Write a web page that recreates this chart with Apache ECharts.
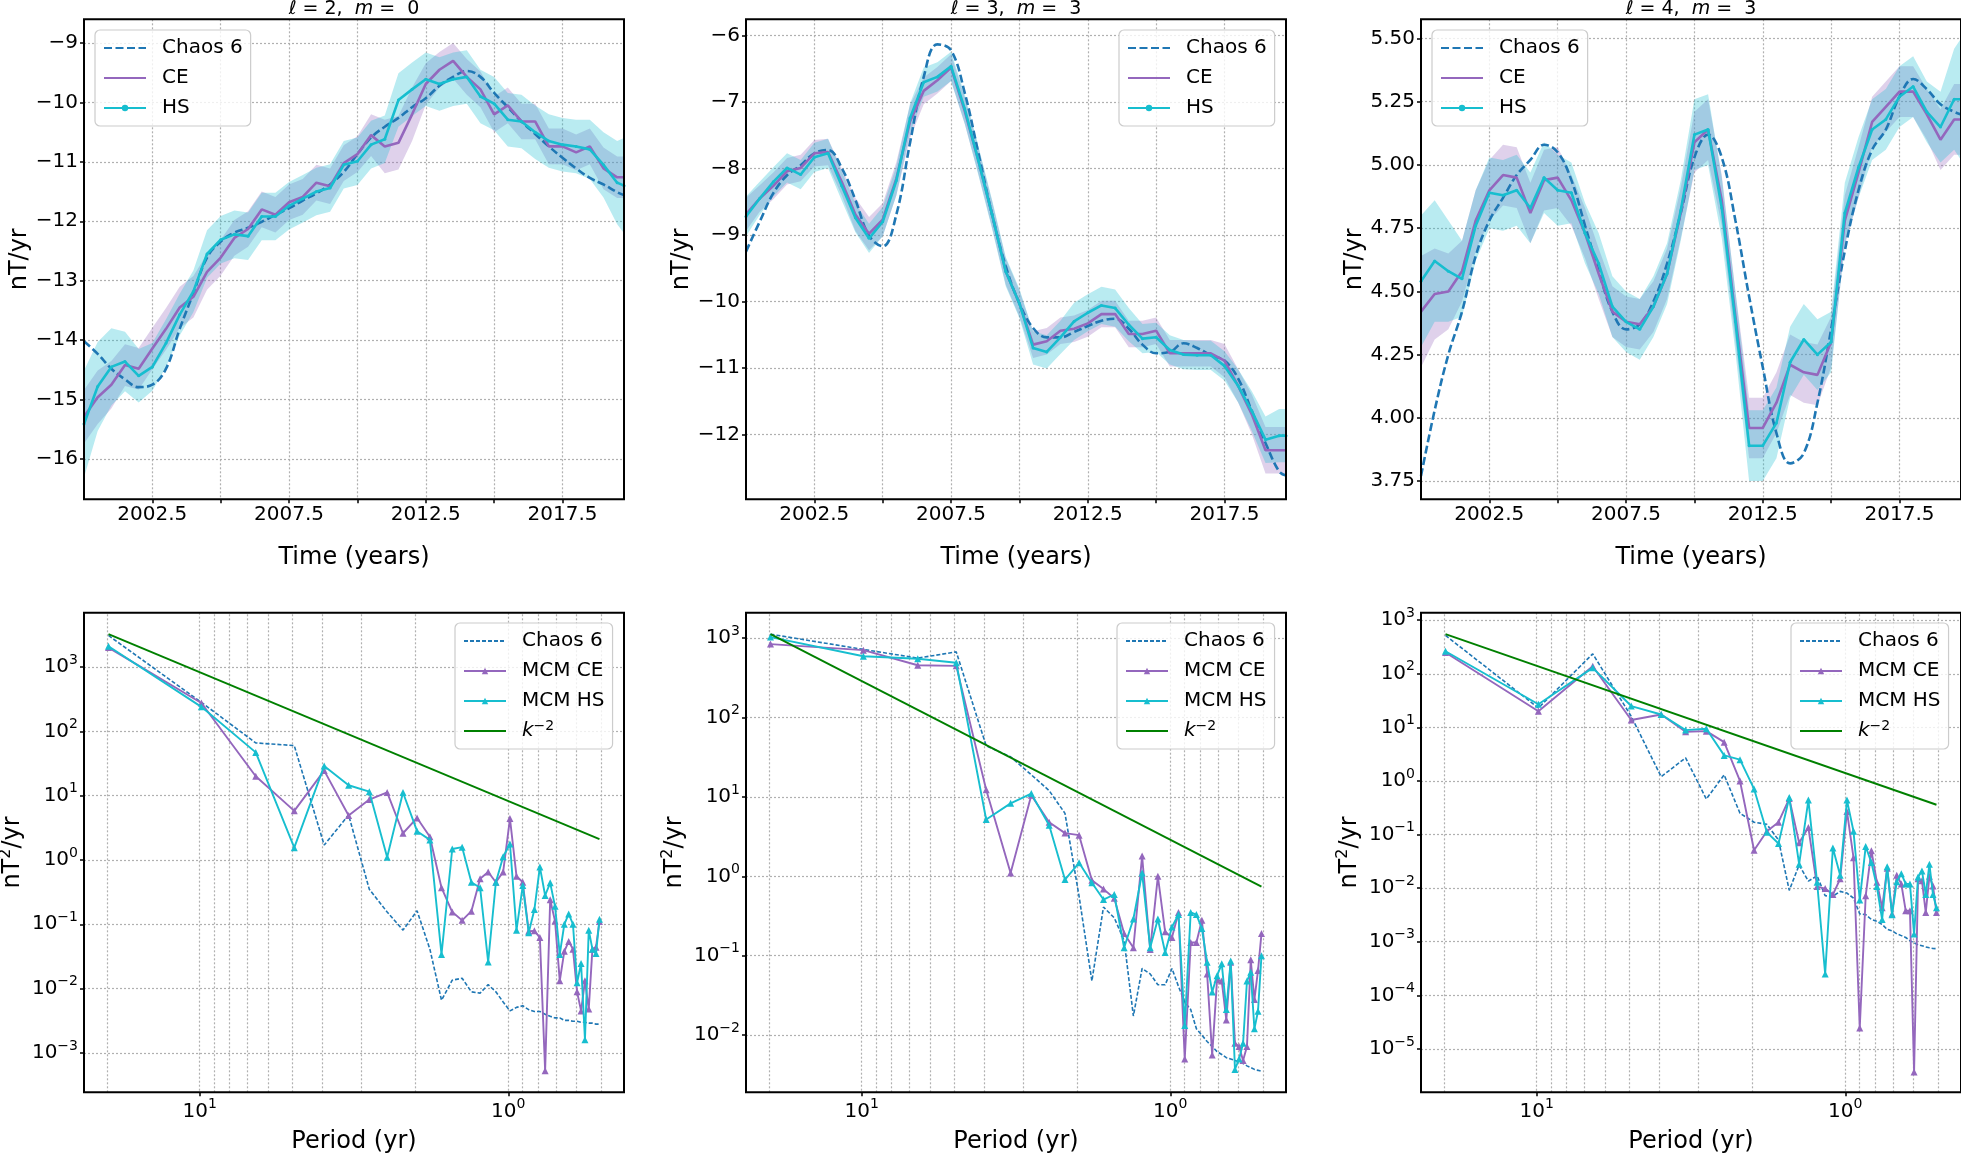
<!DOCTYPE html>
<html><head><meta charset="utf-8">
<script src="https://cdn.jsdelivr.net/npm/echarts@6.0.0/dist/echarts.min.js"></script>
<style>html,body{margin:0;padding:0;background:#fff}#c{width:1961px;height:1153px}</style>
</head><body><div id="c"></div><script>
// ---------------- DATA ----------------
const TIME = [2000,2000.5,2001,2001.5,2002,2002.5,2003,2003.5,2004,2004.5,2005,2005.5,2006,2006.5,2007,2007.5,2008,2008.5,2009,2009.5,2010,2010.5,2011,2011.5,2012,2012.5,2013,2013.5,2014,2014.5,2015,2015.5,2016,2016.5,2017,2017.5,2018,2018.5,2019,2019.5,2019.75];

// l=2, m=0
const chaos1 = [-14.02,-14.23,-14.48,-14.66,-14.79,-14.75,-14.48,-13.81,-13.21,-12.61,-12.34,-12.19,-12.11,-12.01,-11.89,-11.78,-11.65,-11.53,-11.38,-11.17,-10.87,-10.59,-10.41,-10.26,-10.08,-9.93,-9.72,-9.57,-9.47,-9.57,-9.84,-10.08,-10.32,-10.53,-10.74,-10.93,-11.11,-11.27,-11.38,-11.51,-11.56];
const ce1 = [-15.29,-14.96,-14.75,-14.42,-14.48,-14.14,-13.81,-13.45,-13.27,-12.85,-12.61,-12.28,-12.13,-11.80,-11.89,-11.68,-11.59,-11.35,-11.41,-11.02,-10.87,-10.55,-10.74,-10.68,-10.20,-9.69,-9.45,-9.30,-9.57,-9.78,-10.20,-10.05,-10.32,-10.32,-10.74,-10.74,-10.84,-10.74,-11.11,-11.26,-11.26];
const hs1 = [-15.41,-14.78,-14.45,-14.36,-14.60,-14.45,-14.05,-13.57,-13.18,-12.55,-12.31,-12.22,-12.25,-11.92,-11.92,-11.74,-11.62,-11.50,-11.44,-11.05,-10.99,-10.71,-10.62,-9.96,-9.78,-9.61,-9.69,-9.61,-9.57,-9.90,-10.02,-10.29,-10.32,-10.50,-10.65,-10.71,-10.74,-10.79,-11.05,-11.35,-11.40];
const ceSd1 = [0.45,0.45,0.4,0.35,0.35,0.35,0.35,0.35,0.35,0.3,0.3,0.3,0.3,0.3,0.3,0.3,0.3,0.3,0.3,0.3,0.3,0.35,0.45,0.45,0.45,0.35,0.3,0.3,0.3,0.3,0.3,0.3,0.3,0.3,0.3,0.3,0.3,0.3,0.35,0.35,0.35];
const hsSd1 = [0.9,0.75,0.65,0.5,0.45,0.4,0.4,0.35,0.35,0.4,0.4,0.4,0.4,0.4,0.4,0.4,0.4,0.4,0.4,0.4,0.4,0.4,0.4,0.45,0.45,0.45,0.45,0.45,0.45,0.45,0.45,0.45,0.45,0.45,0.45,0.45,0.45,0.5,0.55,0.7,0.8];

// l=3, m=3
const chaos2 = [-9.25,-8.80,-8.37,-8.10,-7.95,-7.77,-7.72,-7.99,-8.47,-9.01,-9.17,-8.69,-7.61,-6.62,-6.13,-6.22,-6.86,-7.77,-8.69,-9.47,-10.03,-10.40,-10.54,-10.54,-10.46,-10.37,-10.29,-10.26,-10.41,-10.65,-10.78,-10.76,-10.63,-10.70,-10.81,-10.89,-11.16,-11.65,-12.13,-12.56,-12.62];
const ce2 = [-8.69,-8.45,-8.26,-8.04,-7.99,-7.77,-7.75,-8.20,-8.69,-8.98,-8.77,-8.15,-7.29,-6.83,-6.67,-6.48,-7.13,-7.88,-8.69,-9.55,-10.03,-10.65,-10.60,-10.44,-10.41,-10.33,-10.19,-10.19,-10.49,-10.49,-10.44,-10.78,-10.78,-10.78,-10.78,-10.89,-11.27,-11.70,-12.24,-12.24,-12.24];
const hs2 = [-8.72,-8.45,-8.20,-7.99,-8.09,-7.83,-7.77,-8.26,-8.74,-9.05,-8.80,-8.18,-7.24,-6.70,-6.62,-6.46,-7.10,-7.88,-8.69,-9.55,-10.03,-10.70,-10.76,-10.54,-10.30,-10.17,-10.06,-10.10,-10.35,-10.56,-10.54,-10.73,-10.80,-10.81,-10.81,-10.97,-11.27,-11.65,-12.08,-12.02,-12.02];
const ceSd2 = [0.25,0.2,0.2,0.2,0.2,0.2,0.2,0.2,0.25,0.25,0.25,0.25,0.25,0.2,0.2,0.2,0.2,0.2,0.2,0.2,0.2,0.2,0.2,0.2,0.2,0.2,0.2,0.2,0.2,0.2,0.2,0.2,0.2,0.2,0.2,0.25,0.25,0.3,0.35,0.35,0.35];
const hsSd2 = [0.3,0.25,0.22,0.22,0.22,0.22,0.22,0.22,0.22,0.22,0.22,0.22,0.22,0.22,0.22,0.22,0.22,0.22,0.22,0.22,0.22,0.25,0.25,0.25,0.28,0.28,0.28,0.28,0.25,0.22,0.22,0.22,0.22,0.22,0.22,0.22,0.25,0.3,0.35,0.4,0.4];

// l=4, m=3
const chaos3 = [3.77,4.03,4.25,4.42,4.64,4.78,4.87,4.96,5.02,5.08,5.05,4.94,4.76,4.58,4.42,4.35,4.37,4.46,4.61,4.81,5.03,5.12,5.03,4.78,4.48,4.20,3.94,3.82,3.86,4.06,4.35,4.66,4.90,5.06,5.14,5.27,5.34,5.30,5.24,5.21,5.20];
const ce3 = [4.42,4.49,4.50,4.58,4.78,4.90,4.96,4.95,4.81,4.94,4.95,4.86,4.73,4.57,4.42,4.38,4.37,4.44,4.57,4.81,5.09,5.14,4.86,4.40,3.96,3.96,4.06,4.21,4.18,4.17,4.30,4.78,4.97,5.17,5.23,5.29,5.29,5.20,5.10,5.18,5.18];
const hs3 = [4.54,4.62,4.58,4.55,4.76,4.89,4.88,4.90,4.83,4.95,4.90,4.89,4.73,4.61,4.44,4.38,4.35,4.44,4.57,4.82,5.12,5.14,4.83,4.38,3.89,3.89,3.98,4.22,4.31,4.25,4.30,4.81,4.99,5.14,5.18,5.27,5.31,5.21,5.15,5.26,5.26];
const ceSd3 = [0.22,0.18,0.15,0.12,0.12,0.12,0.12,0.12,0.12,0.12,0.12,0.1,0.1,0.1,0.1,0.1,0.1,0.1,0.1,0.1,0.12,0.12,0.1,0.1,0.12,0.12,0.12,0.12,0.12,0.12,0.1,0.1,0.1,0.1,0.1,0.1,0.1,0.1,0.12,0.14,0.14];
const hsSd3 = [0.26,0.24,0.2,0.15,0.14,0.14,0.14,0.14,0.14,0.14,0.14,0.12,0.12,0.12,0.12,0.12,0.12,0.12,0.12,0.12,0.14,0.14,0.12,0.12,0.14,0.14,0.14,0.14,0.14,0.14,0.12,0.12,0.12,0.12,0.12,0.12,0.12,0.12,0.14,0.2,0.24];

// spectra
const PERIODS = [19.75,9.875,6.583,4.938,3.95,3.292,2.821,2.469,2.194,1.975,1.795,1.646,1.519,1.411,1.317,1.234,1.162,1.097,1.039,0.9875,0.9405,0.8977,0.8587,0.8229,0.79,0.7596,0.7315,0.7054,0.681,0.6583,0.6371,0.6172,0.5985,0.5809,0.5643,0.5486,0.5338,0.5197,0.5064];
const K_PERIODS = [19.75, 0.5064];

const schaos4 = [3090,282,66,60,1.7,5.0,0.35,0.155,0.081,0.162,0.041,0.0066,0.0135,0.0145,0.0089,0.0085,0.0115,0.0089,0.0062,0.0045,0.0051,0.0054,0.0047,0.0044,0.0044,0.0040,0.0037,0.0035,0.0035,0.0032,0.0032,0.0031,0.0031,0.0030,0.0030,0.0029,0.0029,0.0028,0.0028];
const sce4 = [2000,275,20,5.8,24.5,4.9,8.7,11.2,2.6,4.5,2.3,0.37,0.155,0.115,0.16,0.51,0.65,0.45,0.65,4.4,0.56,0.45,0.078,0.079,0.062,0.00053,0.24,0.112,0.0132,0.038,0.054,0.041,0.0089,0.0045,0.0132,0.0048,0.041,0.044,0.11];
const shs4 = [2100,240,47,1.55,29,14.5,11.5,1.1,11.2,2.8,2.05,0.034,1.48,1.58,0.45,0.37,0.026,0.45,1.12,1.77,0.081,0.40,0.074,0.17,0.78,0.28,0.44,0.19,0.034,0.10,0.145,0.10,0.0123,0.0245,0.0016,0.081,0.041,0.035,0.12];
const sk4 = [3240, 2.1];

const schaos5 = [1120,720,560,670,44,32,19,12,6.2,0.56,0.048,0.41,0.30,0.155,0.0174,0.069,0.059,0.043,0.043,0.069,0.041,0.026,0.021,0.012,0.0100,0.0083,0.0072,0.0062,0.0057,0.0052,0.0050,0.0048,0.0046,0.0044,0.0041,0.0039,0.0037,0.0036,0.0035];
const sce5 = [840,705,455,447,12.3,1.1,10.5,4.8,3.5,3.3,0.89,0.69,0.53,0.19,0.126,1.8,0.12,1.0,0.20,0.17,0.35,0.0050,0.147,0.147,0.28,0.059,0.0056,0.050,0.048,0.0155,0.083,0.0079,0.0072,0.0048,0.0072,0.089,0.028,0.065,0.19];
const shs5 = [1030,590,550,490,5.2,8.3,11,4.4,0.91,1.48,0.83,0.51,0.59,0.126,0.29,1.1,0.126,0.29,0.11,0.23,0.33,0.0132,0.35,0.33,0.22,0.083,0.035,0.056,0.079,0.021,0.086,0.0037,0.0050,0.0079,0.048,0.062,0.012,0.020,0.10];
const sk5 = [1120, 0.74];

const schaos6 = [520,23,236,16,1.2,2.7,0.46,1.3,0.25,0.17,0.155,0.079,0.0091,0.027,0.0135,0.017,0.0072,0.0071,0.0087,0.0081,0.0065,0.0033,0.0032,0.0026,0.0024,0.0021,0.0017,0.0016,0.0014,0.0013,0.0012,0.00105,0.00095,0.00088,0.00084,0.00080,0.00077,0.00075,0.00074];
const sce6 = [250,20,138,13.7,17.4,8.3,8.5,5.3,1.0,0.051,0.115,0.17,0.47,0.070,0.135,0.0107,0.0098,0.0076,0.0149,0.27,0.037,0.0000245,0.0072,0.050,0.0129,0.0043,0.0234,0.0033,0.0174,0.012,0.0038,0.0038,0.0000037,0.0149,0.0138,0.0035,0.0166,0.011,0.0035];
const shs6 = [263,27,129,25,17.4,8.9,9.4,3.0,2.5,0.71,0.110,0.068,0.49,0.028,0.44,0.0129,0.00025,0.056,0.0174,0.44,0.115,0.0060,0.060,0.030,0.0107,0.0026,0.025,0.0032,0.0132,0.0186,0.012,0.012,0.0014,0.0162,0.021,0.0076,0.028,0.0076,0.0043];
const sk6 = [550, 0.36];

const MINOR_PERIODS = [20,9,8,7,6,5,4,3,2,0.9,0.8,0.7,0.6,0.5];
const TITLES = [['2','0'],['3','3'],['4','3']];

// ---------------- STYLE / LAYOUT ----------------
const FONT = 'DejaVu Sans';
const BLUE = '#1f77b4', PURPLE = '#9467bd', CYAN = '#17becf', GREEN = '#008000';
const PX = [84, 746, 1421], PW = 540;
const TOP_Y = 19.3, TOP_H = 480, BOT_Y = 612.7, BOT_H = 479.6;
const GRIDSTYLE = {show: true, showMinLine: false, showMaxLine: false, lineStyle: {color: '#b0b0b0', type: [2, 2], width: 1.2}};
const TICK = {show: true, inside: false, length: 4, lineStyle: {color: '#000', width: 1.5}};
const minus = v => (v < 0 ? '\u2212' + Math.abs(v) : String(v));
const supRich = {sup: {fontSize: 14, fontFamily: FONT, color: '#000', verticalAlign: 'top', lineHeight: 14}};
const logLabel = v => { const e = Math.round(Math.log10(v)); return '10{sup|' + minus(e) + '}'; };

const grids = [], xAxes = [], yAxes = [], series = [], legends = [], titles = [], frames = [];

const topRanges = [[-16.678, -8.601, 1], [-12.978, -5.753, 1], [3.678, 5.576, 0.25]];
const botRanges = [[2.44e-4, 6982], [1.905e-3, 2089], [1.55e-6, 1380]];

for (let p = 0; p < 6; p++) {
  const box = {left: PX[p % 3], top: p < 3 ? TOP_Y : BOT_Y, width: PW, height: p < 3 ? TOP_H : BOT_H};
  grids.push(Object.assign({show: false, containLabel: false, outerBoundsMode: 'none'}, box));
  // panel frame drawn above the gridlines
  frames.push({type: 'rect', silent: true, z: 50, shape: {x: box.left, y: box.top, width: box.width, height: box.height},
    style: {fill: 'none', stroke: '#000', lineWidth: 2}});
}

// top axes
for (let p = 0; p < 3; p++) {
  const [mn, mx, st] = topRanges[p];
  xAxes.push({gridIndex: p, type: 'value', min: 2000, max: 2019.75, minInterval: 2.5, maxInterval: 2.5, splitNumber: 8,
    axisLine: {show: false}, axisTick: TICK, splitLine: GRIDSTYLE,
    axisLabel: {fontSize: 20, color: '#000', fontFamily: FONT, margin: 5, showMinLabel: false, showMaxLabel: false,
      formatter: v => (Math.abs((v - 2002.5) % 5) < 1e-6 ? v.toFixed(1) : '')},
    name: 'Time (years)', nameLocation: 'middle', nameGap: 46,
    nameTextStyle: {fontSize: 24, color: '#000', fontFamily: FONT}});
  yAxes.push({gridIndex: p, type: 'value', min: mn, max: mx, minInterval: st, maxInterval: st, splitNumber: 8,
    axisLine: {show: false}, axisTick: TICK, splitLine: GRIDSTYLE,
    axisLabel: {fontSize: 20, color: '#000', fontFamily: FONT, margin: 6, showMinLabel: false, showMaxLabel: false,
      formatter: st < 1 ? (v => v.toFixed(2)) : (v => minus(Math.round(v)))},
    name: 'nT/yr', nameLocation: 'middle', nameGap: 50,
    nameTextStyle: {fontSize: 24, color: '#000', fontFamily: FONT}});
}
// bottom axes
for (let p = 0; p < 3; p++) {
  xAxes.push({gridIndex: 3 + p, type: 'log', logBase: 10, inverse: true, min: 0.4217, max: 23.71,
    axisLine: {show: false}, axisTick: TICK, splitLine: GRIDSTYLE,
    axisLabel: {fontSize: 20, lineHeight: 28, color: '#000', fontFamily: FONT, margin: 5, showMinLabel: false, showMaxLabel: false,
      formatter: logLabel, rich: supRich},
    name: 'Period (yr)', nameLocation: 'middle', nameGap: 37,
    nameTextStyle: {fontSize: 24, color: '#000', fontFamily: FONT}});
  yAxes.push({gridIndex: 3 + p, type: 'log', logBase: 10, min: botRanges[p][0], max: botRanges[p][1],
    axisLine: {show: false}, axisTick: TICK, splitLine: GRIDSTYLE,
    axisLabel: {fontSize: 20, lineHeight: 28, color: '#000', fontFamily: FONT, margin: 6, showMinLabel: false, showMaxLabel: false,
      formatter: logLabel, rich: supRich},
    name: 'nT{sup|2}/yr', nameLocation: 'middle', nameGap: 48,
    nameTextStyle: {fontSize: 24, lineHeight: 30, color: '#000', fontFamily: FONT,
      rich: {sup: {fontSize: 16, fontFamily: FONT, color: '#000', verticalAlign: 'top', lineHeight: 16}}}});
}

function bandRender(mean, sd, fill) {
  return function (params, api) {
    if (params.dataIndex !== 0) return null;
    const up = [], lo = [];
    for (let i = 0; i < TIME.length; i++) {
      up.push(api.coord([TIME[i], mean[i] + sd[i]]));
      lo.push(api.coord([TIME[i], mean[i] - sd[i]]));
    }
    return {type: 'polygon', shape: {points: up.concat(lo.reverse())}, style: {fill: fill, stroke: null}};
  };
}

const topSets = [[chaos1, ce1, hs1, ceSd1, hsSd1], [chaos2, ce2, hs2, ceSd2, hsSd2], [chaos3, ce3, hs3, ceSd3, hsSd3]];
topSets.forEach(([ch, ce, hs, ceS, hsS], g) => {
  const pair = arr => TIME.map((t, i) => [t, arr[i]]);
  series.push(
    {type: 'custom', name: 'ceband' + g, xAxisIndex: g, yAxisIndex: g, data: pair(ce), renderItem: bandRender(ce, ceS, 'rgba(148,103,189,0.3)'), clip: true, silent: true, z: 1},
    {type: 'custom', name: 'hsband' + g, xAxisIndex: g, yAxisIndex: g, data: pair(hs), renderItem: bandRender(hs, hsS, 'rgba(23,190,207,0.3)'), clip: true, silent: true, z: 1},
    {type: 'line', name: 'Chaos 6', xAxisIndex: g, yAxisIndex: g, data: pair(ch), symbol: 'none', smooth: 0.4,
      lineStyle: {color: BLUE, width: 2.6, type: [8, 3.5]}, itemStyle: {color: BLUE}, z: 3},
    {type: 'line', name: 'CE', xAxisIndex: g, yAxisIndex: g, data: pair(ce), symbol: 'none',
      lineStyle: {color: PURPLE, width: 2.6}, itemStyle: {color: PURPLE}, z: 4},
    {type: 'line', name: 'HS', xAxisIndex: g, yAxisIndex: g, data: pair(hs), symbol: 'circle', symbolSize: 3, showSymbol: true,
      lineStyle: {color: CYAN, width: 2.6}, itemStyle: {color: CYAN}, z: 5}
  );
});

const botSets = [[schaos4, sce4, shs4, sk4], [schaos5, sce5, shs5, sk5], [schaos6, sce6, shs6, sk6]];
botSets.forEach(([ch, ce, hs, kv], j) => {
  const g = 3 + j;
  const pair = arr => PERIODS.map((t, i) => [t, arr[i]]);
  series.push(
    {type: 'line', name: 'minorgrid' + j, xAxisIndex: g, yAxisIndex: g, data: [[1, 1]], symbol: 'none', lineStyle: {width: 0}, silent: true, z: 1,
      markLine: {silent: true, symbol: 'none', z: 1, animation: false, label: {show: false}, emphasis: {disabled: true},
        lineStyle: {color: '#b0b0b0', type: [2, 2], width: 1.2}, data: MINOR_PERIODS.map(v => ({xAxis: v}))}},
    {type: 'line', name: 'Chaos 6 ', xAxisIndex: g, yAxisIndex: g, data: pair(ch), symbol: 'none',
      lineStyle: {color: BLUE, width: 1.6, type: [4, 2]}, itemStyle: {color: BLUE}, z: 2},
    {type: 'line', name: 'MCM CE', xAxisIndex: g, yAxisIndex: g, data: pair(ce), symbol: 'triangle', symbolSize: 7,
      lineStyle: {color: PURPLE, width: 1.9}, itemStyle: {color: PURPLE}, z: 3},
    {type: 'line', name: 'MCM HS', xAxisIndex: g, yAxisIndex: g, data: pair(hs), symbol: 'triangle', symbolSize: 7,
      lineStyle: {color: CYAN, width: 1.9}, itemStyle: {color: CYAN}, z: 4},
    {type: 'line', name: 'k-2', xAxisIndex: g, yAxisIndex: g, data: K_PERIODS.map((t, i) => [t, kv[i]]), symbol: 'none',
      lineStyle: {color: GREEN, width: 1.9}, itemStyle: {color: GREEN}, z: 5}
  );
});

const legendBase = {
  orient: 'vertical', itemWidth: 42, itemHeight: 8, itemGap: 6, padding: [6, 8, 6, 8],
  backgroundColor: 'rgba(255,255,255,0.8)', borderColor: '#cccccc', borderWidth: 1.2, borderRadius: 5,
  selectedMode: false, z: 60,
  textStyle: {fontSize: 20, lineHeight: 24, color: '#000', fontFamily: FONT, padding: [0, 0, 0, 11],
    rich: {i: {fontSize: 20, lineHeight: 24, fontStyle: 'italic', fontFamily: FONT, color: '#000'},
           sup: {fontSize: 14, lineHeight: 14, verticalAlign: 'top', fontFamily: FONT, color: '#000'}}},
  formatter: n => (n === 'k-2' ? '{i|k}{sup|\u22122}' : n.trim())
};
const hide = n => ({name: n, itemStyle: {opacity: 0}});
const topLegendPos = [[95, 30], [1119, 30], [1432, 30]];
const botLegendPos = [[455, 623], [1117, 623], [1791, 623]];
topLegendPos.forEach(([l, t]) => legends.push(Object.assign({}, legendBase, {left: l, top: t, data: [hide('Chaos 6'), hide('CE'), {name: 'HS'}]})));
botLegendPos.forEach(([l, t]) => legends.push(Object.assign({}, legendBase, {left: l, top: t, data: [hide('Chaos 6 '), {name: 'MCM CE'}, {name: 'MCM HS'}, hide('k-2')]})));

TITLES.forEach(([l, m], p) => titles.push({
  text: '{n|\u2113 = ' + l + ',  }{i|m}{n| =  ' + m + '}', left: PX[p] + PW / 2, top: 0, textAlign: 'center', padding: 0,
  textStyle: {fontSize: 19, fontWeight: 'normal', color: '#000', fontFamily: FONT,
    rich: {n: {fontSize: 19, fontFamily: FONT, color: '#000'}, i: {fontSize: 19, fontStyle: 'italic', fontFamily: FONT, color: '#000'}}}
}));

const chart = echarts.init(document.getElementById('c'), null, {renderer: 'canvas'});
chart.setOption({
  animation: false, backgroundColor: '#fff',
  textStyle: {fontFamily: FONT},
  title: titles, grid: grids, xAxis: xAxes, yAxis: yAxes, legend: legends, series: series,
  graphic: {elements: frames}
});
</script></body></html>
